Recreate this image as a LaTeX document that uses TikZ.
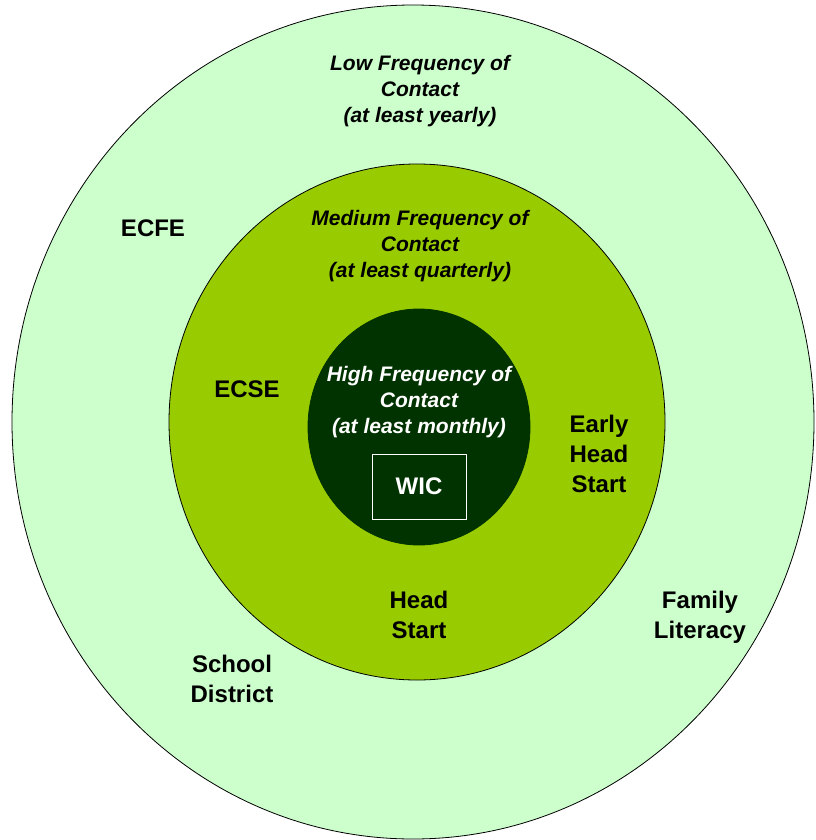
\documentclass[tikz,border=0pt]{standalone}
\usepackage{fontspec}
\setmainfont{Liberation Sans}
\definecolor{lowgreen}{HTML}{CCFFCC}
\definecolor{midgreen}{HTML}{99CC00}
\definecolor{darkgreen}{HTML}{003300}
\tikzset{
  ring/.style={draw=black, line width=0.8pt},
  heading/.style={align=center, inner sep=0pt, font=\fontsize{21}{26}\selectfont\bfseries\itshape},
  label/.style={align=center, inner sep=0pt, font=\fontsize{24}{30}\selectfont\bfseries},
}
\begin{document}
\begin{tikzpicture}[x=1pt,y=-1pt]
\useasboundingbox (0,0) rectangle (815,840);
\fill[lowgreen] (413,422) ellipse [x radius=401, y radius=417];
\draw[ring] (413,422) ellipse [x radius=401, y radius=417];
\fill[midgreen] (417,422) ellipse [x radius=248, y radius=258];
\draw[ring] (417,422) ellipse [x radius=248, y radius=258];
\fill[darkgreen] (419,427) ellipse [x radius=111, y radius=118];
\draw[darkgreen, line width=0.8pt] (419,427) ellipse [x radius=111, y radius=118];

\node[heading] (low) at (420,91.5) {Low Frequency of\\Contact\\(at least yearly)};
\node[heading] (med) at (420,246) {Medium Frequency of\\Contact\\(at least quarterly)};
\node[heading, text=white] (high) at (419,402.5) {High Frequency of\\Contact\\(at least monthly)};

\node[label, text=white, draw=white, line width=0.8pt, minimum width=94pt, minimum height=65pt] (wic) at (419,486.5) {WIC};
\node[label] (ecfe) at (153,228) {ECFE};
\node[label] (ecse) at (247,389) {ECSE};
\node[label] (ehs) at (599,454) {Early\\Head\\Start};
\node[label] (hs) at (419,615) {Head\\Start};
\node[label] (fl) at (700,617) {Family\\Literacy};
\node[label] (sd) at (232,679) {School\\District};
\end{tikzpicture}
\end{document}
